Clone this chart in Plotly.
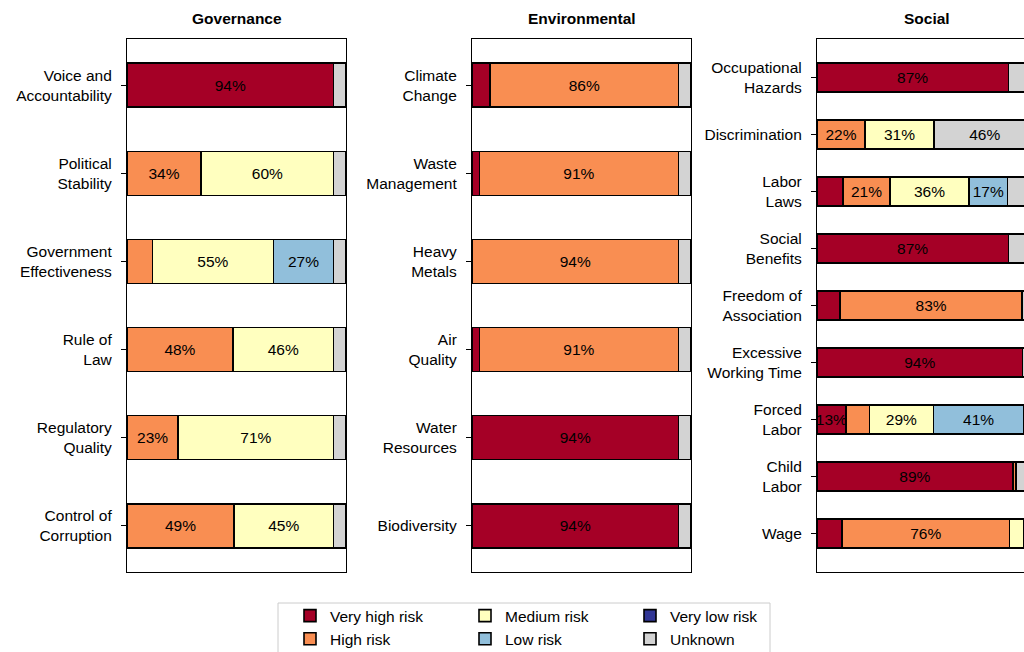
import plotly.graph_objects as go

FONT = "Liberation Sans, Arial, sans-serif"

risk_levels = ["Very high risk", "High risk", "Medium risk", "Low risk", "Very low risk", "Unknown"]
risk_colors = ["#a50026", "#f98e52", "#ffffbf", "#91bfdb", "#313695", "#d3d3d3"]
legend_ids = ["legend", "legend", "legend2", "legend2", "legend3", "legend3"]

# Governance indicators (% of countries per risk level)
gov_topics = ["Voice and<br>Accountability", "Political<br>Stability", "Government<br>Effectiveness",
              "Rule of<br>Law", "Regulatory<br>Quality", "Control of<br>Corruption"]
gov_very_high = [94.3, None, None, None, None, None]
gov_high = [None, 33.9, 11.6, 48.4, 23.4, 48.9]
gov_medium = [None, 60.4, 55.3, 45.9, 70.9, 45.4]
gov_low = [None, None, 27.4, None, None, None]
gov_very_low = [None, None, None, None, None, None]
gov_unknown = [5.7, 5.7, 5.7, 5.7, 5.7, 5.7]

# Environmental indicators
env_topics = ["Climate<br>Change", "Waste<br>Management", "Heavy<br>Metals",
              "Air<br>Quality", "Water<br>Resources", "Biodiversity"]
env_very_high = [8.3, 3.4, None, 3.4, 94.3, 94.3]
env_high = [86.0, 90.9, 94.3, 90.9, None, None]
env_medium = [None, None, None, None, None, None]
env_low = [None, None, None, None, None, None]
env_very_low = [None, None, None, None, None, None]
env_unknown = [5.7, 5.7, 5.7, 5.7, 5.7, 5.7]

# Social indicators
soc_topics = ["Occupational<br>Hazards", "Discrimination", "Labor<br>Laws", "Social<br>Benefits",
              "Freedom of<br>Association", "Excessive<br>Working Time", "Forced<br>Labor",
              "Child<br>Labor", "Wage"]
soc_very_high = [87.4, None, 11.9, 87.4, 10.6, 93.9, 13.2, 89.4, 11.5]
soc_high = [None, 22.0, 21.4, None, 83.0, None, 10.7, 1.5, 76.4]
soc_medium = [None, 31.4, 36.2, None, None, None, 29.3, None, 6.4]
soc_low = [None, None, 17.4, None, None, None, 41.2, None, None]
soc_very_low = [None, None, None, None, None, None, None, None, None]
soc_unknown = [11.5, 46.4, 11.5, 11.5, 6.4, 6.1, 5.6, 9.1, 5.7]

panels = [
    ("Governance", gov_topics, [gov_very_high, gov_high, gov_medium, gov_low, gov_very_low, gov_unknown], "x", "y"),
    ("Environmental", env_topics, [env_very_high, env_high, env_medium, env_low, env_very_low, env_unknown], "x2", "y2"),
    ("Social", soc_topics, [soc_very_high, soc_high, soc_medium, soc_low, soc_very_low, soc_unknown], "x3", "y3"),
]

LABEL_MIN = 12  # segments narrower than this stay unlabelled


def seg_labels(values):
    return [f"{v:.0f}%" if (v is not None and v >= LABEL_MIN) else "" for v in values]


fig = go.Figure()
for p, (title, topics, series, xa, ya) in enumerate(panels):
    for k, level in enumerate(risk_levels):
        vals = series[k]
        fig.add_trace(go.Bar(
            y=topics, x=vals, orientation="h", name=level,
            marker=dict(color=risk_colors[k], line=dict(color="black", width=1.6)),
            width=0.5, xaxis=xa, yaxis=ya,
            legendgroup=level, showlegend=(p == 0), legend=legend_ids[k],
            text=seg_labels(vals), textposition="inside", insidetextanchor="middle",
            textangle=0, constraintext="none",
            textfont=dict(color="black", size=15.5, family=FONT),
            hoverinfo="skip",
        ))

W, H = 1024, 652
x_domains = [[127 / W, 346 / W], [472 / W, 691 / W], [817 / W, 1.0]]
x_ranges = [[0, 100], [0, 100], [0, 94.5]]
y_domain = [1 - 572 / H, 1 - 39 / H]

layout = dict(
    width=W, height=H, barmode="stack",
    margin=dict(l=0, r=0, t=0, b=0, autoexpand=False),
    plot_bgcolor="white", paper_bgcolor="white",
    font=dict(family=FONT, size=15.5, color="black"),
)
for i, (title, topics, series, xa, ya) in enumerate(panels):
    sfx = "" if i == 0 else str(i + 1)
    n = len(topics)
    pad = 0.05 * (n - 0.5)
    layout["xaxis" + sfx] = dict(
        domain=x_domains[i], range=x_ranges[i], anchor=ya,
        showticklabels=False, ticks="", showgrid=False, zeroline=False,
        showline=True, mirror=True, linecolor="black", linewidth=1.2,
    )
    layout["yaxis" + sfx] = dict(
        domain=y_domain, anchor=xa, type="category",
        categoryorder="array", categoryarray=topics,
        range=[n - 1 + 0.25 + pad, -0.25 - pad],
        showgrid=False, zeroline=False,
        showline=True, mirror=(i < 2), linecolor="black", linewidth=1.2,
        ticks="outside", ticklen=5, tickwidth=1.2, tickcolor="black",
        ticklabelstandoff=6,
        tickfont=dict(family=FONT, size=15.5, color="black"),
    )

fig.update_layout(**layout)

annotations = []
for i, (title, *_rest) in enumerate(panels):
    cx = (127 + 219 / 2 + 345 * i) / W
    annotations.append(dict(
        text=f"<b>{title}</b>", x=cx, y=1 - 19 / H, xref="paper", yref="paper",
        xanchor="center", yanchor="middle", showarrow=False,
        font=dict(family=FONT, size=15.5, color="black"),
    ))
fig.update_layout(annotations=annotations)

# legend frame shared by the three legend columns
fig.add_shape(type="rect", xref="paper", yref="paper",
              x0=278 / W, x1=770 / W, y0=-0.05, y1=1 - 603 / H,
              line=dict(color="#cccccc", width=1), fillcolor="white", layer="below")

legend_style = dict(yanchor="top", xanchor="left", y=1 - 599 / H, bgcolor="rgba(0,0,0,0)",
                    borderwidth=0, font=dict(family=FONT, size=15.5, color="black"),
                    tracegroupgap=0, orientation="v")
fig.update_layout(
    legend=dict(x=290 / W, **legend_style),
    legend2=dict(x=465 / W, **legend_style),
    legend3=dict(x=630 / W, **legend_style),
)

fig.write_html("out.html", config={"displayModeBar": False})
